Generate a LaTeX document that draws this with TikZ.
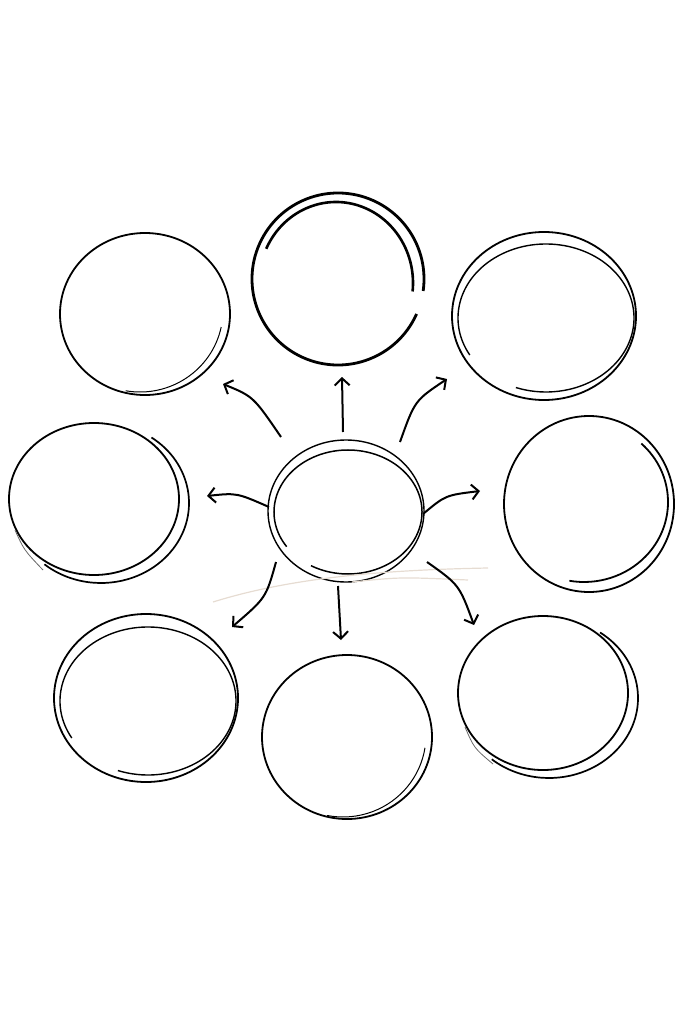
\documentclass[tikz,border=0pt]{standalone}
\usetikzlibrary{shapes.geometric,arrows.meta}
\definecolor{faint}{RGB}{230,220,210}
\begin{document}
\begin{tikzpicture}[x=1pt,y=-1pt,
  bub/.style={ellipse,draw,line width=1.8pt,inner sep=0pt},
  ghost/.style={ellipse,draw=none,inner sep=0pt},
  sk/.style={line width=1.4pt},
  thinsk/.style={line width=0.8pt,black!60},
  arr/.style={line width=2pt,-{Straight Barb[length=7pt,width=15pt,line width=2pt]}}]
\useasboundingbox (0,0) rectangle (683,1024);

% ---- bubbles ----
\node[bub,minimum width=170pt,minimum height=162pt] (tl) at (145,314) {};
\node[ghost,minimum width=172pt,minimum height=172pt] (tc) at (338,279) {};
\node[bub,minimum width=184pt,minimum height=168pt] (tr) at (544,316) {};
\node[bub,minimum width=170pt,minimum height=152pt] (ml) at (94,499) {};
\node[bub,line width=1.4pt,minimum width=156pt,minimum height=142pt] (c) at (346,511) {};
\node[bub,minimum width=170pt,minimum height=176pt] (mr) at (589,504) {};
\node[bub,minimum width=184pt,minimum height=168pt] (bl) at (146,698) {};
\node[bub,minimum width=170pt,minimum height=164pt] (bc) at (347,737) {};
\node[bub,minimum width=170pt,minimum height=154pt] (br) at (543,693) {};

% ---- sketch strokes ----
% top-left
\draw[sk,line width=1pt] (140,310) ++(12:83 and 82) arc[start angle=12,end angle=100,x radius=83,y radius=82];
% top-center (thick spiral)
\draw[line width=2.8pt] (tc.center) ++(24:86 and 86) arc[start angle=24,end angle=368,x radius=86,y radius=86];
\draw[line width=2.6pt] (336,283) ++(205:77 and 81) arc[start angle=205,end angle=366,x radius=77,y radius=81];
% top-right
\draw[sk] (546,318) ++(150:88 and 74) arc[start angle=150,end angle=470,x radius=88,y radius=74];
% mid-left
\draw[sk,line width=1.7pt] (101,503) ++(-55:88 and 80) arc[start angle=-55,end angle=130,x radius=88,y radius=80];
\draw[thinsk] (15,530) .. controls (24,550) .. (43,570);
% center
\draw[sk,line width=1.5pt] (348,512) ++(146:74 and 62) arc[start angle=146,end angle=480,x radius=74,y radius=62];
% mid-right
\draw[sk,line width=1.8pt] (584,502) ++(-47:84 and 80) arc[start angle=-47,end angle=100,x radius=84,y radius=80];
% bottom-left
\draw[sk] (148,701) ++(150:88 and 74) arc[start angle=150,end angle=470,x radius=88,y radius=74];
% bottom-center
\draw[sk,line width=1pt] (343,735) ++(9:83 and 82) arc[start angle=9,end angle=101,x radius=83,y radius=82];
% bottom-right
\draw[sk,line width=1.7pt] (549,698) ++(-55:89 and 80) arc[start angle=-55,end angle=130,x radius=89,y radius=80];
\draw[thinsk] (465,727) .. controls (474,748) .. (493,764);

% faint beige strokes
\draw[faint,line width=1.2pt] (213,602) .. controls (290,578) and (380,570) .. (488,568);
\draw[faint,line width=1.2pt] (352,582) .. controls (400,577) .. (468,580);

% ---- arrow end points ----
\coordinate (aul0) at (281,437); \coordinate (aul1) at (223,384);
\coordinate (au0) at (343,432);  \coordinate (au1) at (342,377);
\coordinate (aur0) at (400,442); \coordinate (aur1) at (447,379);
\coordinate (al0) at (269,507);  \coordinate (al1) at (207,496);
\coordinate (ar0) at (423,514);  \coordinate (ar1) at (480,491);
\coordinate (all0) at (276,562); \coordinate (all1) at (232,627);
\coordinate (ad0) at (338,586);  \coordinate (ad1) at (341,640);
\coordinate (alr0) at (427,562); \coordinate (alr1) at (474,625);

% ---- arrows ----
\draw[arr] (aul0) .. controls (253.3,396.5) .. (aul1);
\draw[arr] (au0) -- (au1);
\draw[arr] (aur0) .. controls (414.8,400.5) .. (aur1);
\draw[arr] (al0) .. controls (236.7,492.8) .. (al1);
\draw[arr] (ar0) .. controls (445.5,495.2) .. (ar1);
\draw[arr] (all0) .. controls (266,597.8) .. (all1);
\draw[arr] (ad0) -- (ad1);
\draw[arr] (alr0) .. controls (459.2,584.8) .. (alr1);
\end{tikzpicture}
\end{document}
